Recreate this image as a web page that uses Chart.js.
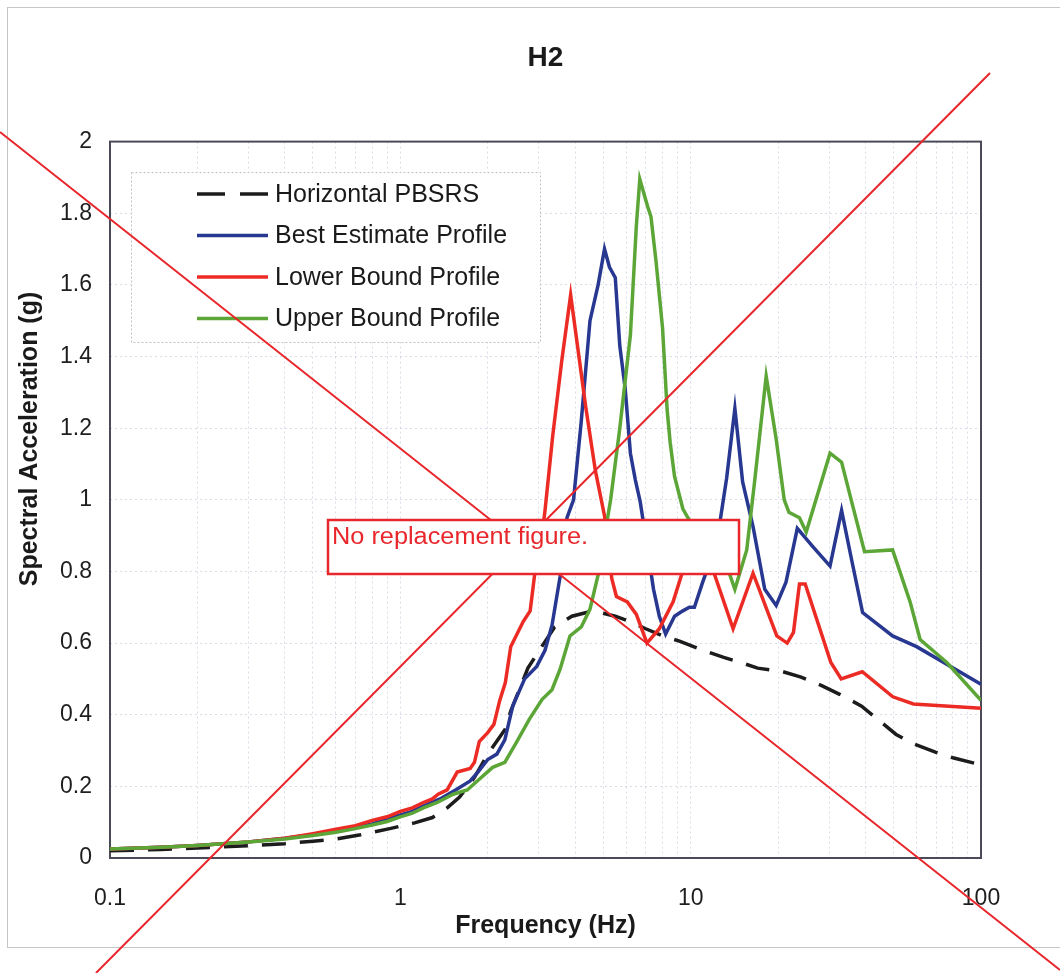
<!DOCTYPE html>
<html>
<head>
<meta charset="utf-8">
<title>H2</title>
<script src="https://cdn.jsdelivr.net/npm/chart.js@4.4.1/dist/chart.umd.min.js"></script>
<style>
  html, body { margin: 0; padding: 0; background: #fff; }
  #wrap { width: 1060px; height: 973px; }
</style>
</head>
<body>
<div id="wrap"><canvas id="rsChart" width="1060" height="973"></canvas></div>
<script>
// Horizontal PBSRS (dashed reference spectrum)
const pbsrsFreq = [0.1, 0.15, 0.2, 0.3, 0.4, 0.5, 0.6, 0.73, 0.92, 1.12, 1.29, 1.45, 1.6, 1.8, 2.0, 2.3, 2.4, 2.6, 2.75, 3.07, 3.4, 3.9, 4.6, 5.5, 6.2, 7.0, 8.0, 9.2, 11, 13, 15, 17, 20.8, 24, 28.5, 32.6, 38.8, 43.6, 51, 58, 70, 80, 100];
const pbsrsAcc  = [0.02, 0.024, 0.028, 0.034, 0.04, 0.047, 0.053, 0.065, 0.082, 0.098, 0.113, 0.14, 0.17, 0.225, 0.29, 0.36, 0.41, 0.48, 0.53, 0.59, 0.645, 0.675, 0.69, 0.675, 0.66, 0.64, 0.62, 0.605, 0.58, 0.56, 0.545, 0.53, 0.52, 0.505, 0.48, 0.457, 0.424, 0.39, 0.345, 0.32, 0.295, 0.28, 0.26];

// Best estimate profile
const bestFreq = [0.1, 0.15, 0.2, 0.3, 0.4, 0.5, 0.6, 0.7, 0.8, 0.9, 1.0, 1.1, 1.2, 1.37, 1.55, 1.74, 1.85, 2.0, 2.15, 2.29, 2.44, 2.68, 2.95, 3.15, 3.33, 3.55, 3.75, 3.95, 4.2, 4.5, 4.8, 5.05, 5.25, 5.5, 5.7, 5.95, 6.2, 6.45, 6.7, 7.0, 7.45, 7.8, 8.2, 8.8, 9.4, 9.9, 10.3, 11.0, 12.3, 13.3, 14.2, 15.1, 16.4, 18.0, 19.7, 21.3, 23.3, 26.3, 30.2, 33.1, 36.0, 39.1, 49.6, 60, 100];
const bestAcc  = [0.025, 0.03, 0.035, 0.045, 0.055, 0.065, 0.075, 0.085, 0.095, 0.11, 0.12, 0.13, 0.145, 0.165, 0.19, 0.215, 0.24, 0.275, 0.29, 0.33, 0.425, 0.5, 0.535, 0.58, 0.65, 0.785, 0.95, 1.0, 1.22, 1.5, 1.6, 1.7, 1.65, 1.62, 1.43, 1.31, 1.13, 1.055, 0.995, 0.895, 0.75, 0.675, 0.625, 0.675, 0.69, 0.7, 0.7, 0.77, 0.88, 1.06, 1.255, 1.05, 0.925, 0.75, 0.705, 0.77, 0.92, 0.87, 0.815, 0.97, 0.825, 0.685, 0.62, 0.59, 0.485];

// Lower bound profile
const lowerFreq = [0.1, 0.15, 0.2, 0.3, 0.4, 0.5, 0.6, 0.7, 0.8, 0.9, 1.0, 1.1, 1.2, 1.29, 1.35, 1.45, 1.57, 1.74, 1.8, 1.87, 2.0, 2.1, 2.2, 2.3, 2.4, 2.65, 2.8, 2.9, 3.0, 3.15, 3.35, 3.6, 3.86, 4.35, 4.7, 5.05, 5.35, 5.55, 6.05, 6.5, 7.07, 7.8, 8.7, 9.3, 10.5, 11.3, 12.1, 14.0, 16.4, 19.8, 21.5, 22.6, 23.7, 24.8, 30.4, 33, 39, 49.7, 58.5, 100];
const lowerAcc  = [0.025, 0.03, 0.035, 0.045, 0.055, 0.068, 0.08, 0.09, 0.105, 0.115, 0.13, 0.14, 0.155, 0.165, 0.178, 0.19, 0.24, 0.25, 0.267, 0.325, 0.35, 0.373, 0.44, 0.49, 0.59, 0.66, 0.69, 0.79, 0.83, 0.97, 1.18, 1.39, 1.572, 1.26, 1.08, 0.955, 0.78, 0.73, 0.715, 0.68, 0.6, 0.64, 0.715, 0.79, 0.86, 0.87, 0.79, 0.64, 0.795, 0.62, 0.6, 0.63, 0.765, 0.765, 0.546, 0.5, 0.52, 0.45, 0.43, 0.418];

// Upper bound profile
const upperFreq = [0.1, 0.15, 0.2, 0.3, 0.4, 0.5, 0.6, 0.7, 0.8, 0.9, 1.0, 1.1, 1.2, 1.34, 1.52, 1.7, 1.87, 2.08, 2.29, 2.5, 2.78, 3.08, 3.33, 3.55, 3.84, 4.2, 4.5, 4.8, 5.3, 5.7, 6.2, 6.5, 6.68, 7.1, 7.3, 7.6, 8.0, 8.3, 8.5, 8.8, 9.4, 10.1, 11, 12, 13, 14.2, 15.6, 16.6, 18.2, 19.7, 21, 21.8, 23.7, 25, 30.2, 33.1, 36.1, 39.7, 49.6, 57, 61.7, 76.4, 100];
const upperAcc  = [0.025, 0.03, 0.035, 0.045, 0.053, 0.063, 0.072, 0.082, 0.092, 0.102, 0.115, 0.125, 0.14, 0.155, 0.178, 0.19, 0.22, 0.253, 0.267, 0.32, 0.387, 0.443, 0.47, 0.527, 0.62, 0.645, 0.695, 0.79, 1.0, 1.2, 1.46, 1.765, 1.895, 1.82, 1.79, 1.665, 1.48, 1.25, 1.16, 1.065, 0.975, 0.93, 0.9, 0.88, 0.84, 0.75, 0.86, 1.05, 1.345, 1.17, 1.0, 0.965, 0.95, 0.91, 1.13, 1.105, 0.985, 0.855, 0.86, 0.715, 0.61, 0.545, 0.44];

const seriesLabels = ["Horizontal PBSRS", "Best Estimate Profile", "Lower Bound Profile", "Upper Bound Profile"];
const chartTitle = "H2";
const xTitle = "Frequency (Hz)";
const yTitle = "Spectral Acceleration (g)";
const noticeText = "No replacement figure.";

const FONT = "'Liberation Sans', Arial, Helvetica, sans-serif";
Chart.defaults.font.family = FONT;

// grid lines on every 1..9 multiple of each decade
const freqGrid = [];
for (let e = -1; e <= 1; e++) {
    for (let m = 1; m <= 9; m++) freqGrid.push(+(m * Math.pow(10, e)).toPrecision(2));
}
freqGrid.push(100);

function toPoints(xs, ys) {
    return xs.map((x, i) => ({ x: x, y: ys[i] }));
}

// white page with the faint outer frame
const pageFrame = {
    id: "pageFrame",
    beforeDraw(chart) {
        const ctx = chart.ctx;
        ctx.save();
        ctx.fillStyle = "#fff";
        ctx.fillRect(0, 0, chart.width, chart.height);
        ctx.strokeStyle = "#c6c6c6";
        ctx.lineWidth = 1;
        ctx.strokeRect(7.5, 7.5, chart.width + 20, 940);
        ctx.restore();
    }
};

// dark box around the plot area
const plotFrame = {
    id: "plotFrame",
    beforeDatasetsDraw(chart) {
        const { ctx, chartArea: a } = chart;
        ctx.save();
        ctx.strokeStyle = "#4a4a58";
        ctx.lineWidth = 2;
        ctx.strokeRect(a.left, a.top, a.right - a.left, a.bottom - a.top);
        ctx.restore();
    }
};

// legend drawn as a box inside the plot
const boxLegend = {
    id: "boxLegend",
    afterDatasetsDraw(chart) {
        const ctx = chart.ctx;
        const left = 131, top = 172, right = 540, bottom = 342;
        ctx.save();
        ctx.fillStyle = "#fff";
        ctx.fillRect(left, top, right - left, bottom - top);
        ctx.strokeStyle = "#c2c2c2";
        ctx.lineWidth = 1;
        ctx.setLineDash([2, 2]);
        ctx.strokeRect(left + 0.5, top + 0.5, right - left, bottom - top);
        ctx.font = "25px " + FONT;
        ctx.textBaseline = "middle";
        chart.data.datasets.forEach((ds, i) => {
            const y = 194 + i * 41.5;
            ctx.strokeStyle = ds.borderColor;
            ctx.lineWidth = ds.borderWidth;
            ctx.setLineDash(ds.borderDash ? [28, 15] : []);
            ctx.beginPath();
            ctx.moveTo(197, y);
            ctx.lineTo(268, y);
            ctx.stroke();
            ctx.fillStyle = "#1a1a1a";
            ctx.fillText(ds.label, 275, y + 1);
        });
        ctx.restore();
    }
};

// vertical axis title, the red cross and the notice box
const overlay = {
    id: "overlay",
    afterDraw(chart) {
        const ctx = chart.ctx;
        ctx.save();
        ctx.translate(30, 439);
        ctx.rotate(-Math.PI / 2);
        ctx.font = "bold 25px " + FONT;
        ctx.fillStyle = "#1a1a1a";
        ctx.textAlign = "center";
        ctx.textBaseline = "middle";
        ctx.fillText(yTitle, 0, 0);
        ctx.restore();

        ctx.save();
        ctx.strokeStyle = "#e8262b";
        ctx.lineWidth = 2;
        ctx.beginPath();
        ctx.moveTo(0, 132);
        ctx.lineTo(1060, 970);
        ctx.moveTo(96, 973);
        ctx.lineTo(990, 73);
        ctx.stroke();

        ctx.fillStyle = "#fff";
        ctx.fillRect(328, 520, 411, 54);
        ctx.lineWidth = 2.5;
        ctx.strokeRect(328, 520, 411, 54);

        ctx.font = "23px " + FONT;
        ctx.fillStyle = "#e8262b";
        ctx.textBaseline = "alphabetic";
        const w = ctx.measureText(noticeText).width;
        ctx.translate(332, 544);
        ctx.scale(256 / w, 1);
        ctx.fillText(noticeText, 0, 0);
        ctx.restore();
    }
};

const lineStyle = { pointRadius: 0, tension: 0, borderWidth: 3.5, fill: false };

new Chart(document.getElementById("rsChart"), {
    type: "line",
    data: {
        datasets: [
            { ...lineStyle, label: seriesLabels[0], data: toPoints(pbsrsFreq, pbsrsAcc), borderColor: "#1c1c1c", borderDash: [24, 14], order: 3 },
            { ...lineStyle, label: seriesLabels[1], data: toPoints(bestFreq, bestAcc), borderColor: "#283891", order: 2 },
            { ...lineStyle, label: seriesLabels[2], data: toPoints(lowerFreq, lowerAcc), borderColor: "#ec2b25", order: 1 },
            { ...lineStyle, label: seriesLabels[3], data: toPoints(upperFreq, upperAcc), borderColor: "#5ba636", order: 0 }
        ]
    },
    options: {
        responsive: false,
        animation: false,
        layout: { padding: { left: 0, right: 79, top: 0, bottom: 0 } },
        plugins: {
            legend: { display: false },
            tooltip: { enabled: false },
            title: {
                display: true,
                fullSize: false,
                text: chartTitle,
                color: "#1a1a1a",
                font: { size: 28, weight: "bold" },
                padding: { top: 41, bottom: 67 }
            }
        },
        scales: {
            x: {
                type: "logarithmic",
                min: 0.1,
                max: 100,
                afterBuildTicks: (scale) => { scale.ticks = freqGrid.map(v => ({ value: v })); },
                afterFit: (scale) => { scale.height = 115; },
                ticks: {
                    autoSkip: false,
                    maxRotation: 0,
                    padding: 27,
                    color: "#1e1e1e",
                    font: { size: 23 },
                    callback: (v) => {
                        const l = Math.log10(v);
                        return Math.abs(l - Math.round(l)) < 1e-9 ? String(v) : "";
                    }
                },
                grid: { color: "rgba(150,158,190,0.35)", lineWidth: 1, drawTicks: false },
                border: { display: false, dash: [2, 3] },
                title: {
                    display: true,
                    text: xTitle,
                    color: "#1a1a1a",
                    font: { size: 25, weight: "bold" },
                    padding: { top: 0, bottom: 32 }
                }
            },
            y: {
                min: 0,
                max: 2,
                afterFit: (scale) => { scale.width = 110; },
                ticks: {
                    stepSize: 0.2,
                    padding: 18,
                    color: "#1e1e1e",
                    font: { size: 23 },
                    callback: (v) => String(+v.toFixed(1))
                },
                grid: { color: "rgba(150,158,190,0.35)", lineWidth: 1, drawTicks: false },
                border: { display: false, dash: [2, 3] }
            }
        }
    },
    plugins: [pageFrame, plotFrame, boxLegend, overlay]
});
</script>
</body>
</html>
